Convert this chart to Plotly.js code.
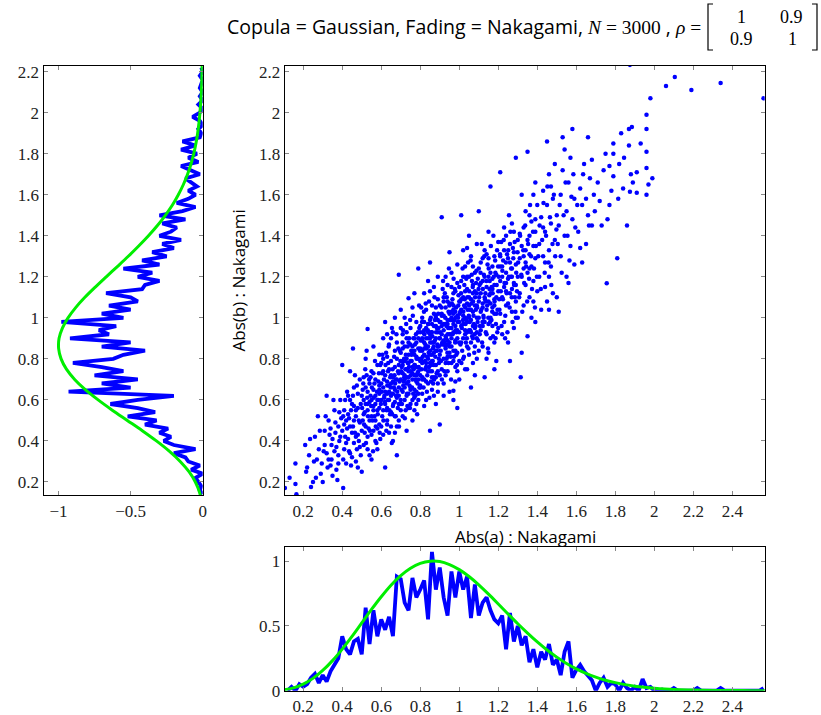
<!DOCTYPE html>
<html>
<head>
<meta charset="utf-8">
<script src="https://cdn.plot.ly/plotly-3.0.1.min.js"></script>
<style>html,body{margin:0;padding:0;background:#fff;}#chart{width:821px;height:715px;}</style>
</head>
<body>
<div id="chart"></div>
<script>
// ---- scatter sample (Abs(a), Abs(b)) ----
const scatterPts = [
[0.106,0.17],[0.165,0.14],[0.16,0.19],[0.16,0.29],[0.13,0.22],
[0.21,0.38],[0.24,0.175],[0.25,0.2],[0.22,0.27],[0.27,0.31],[0.275,0.52],[0.23,0.33],[0.29,0.24],[0.26,0.42],[0.28,0.36],[0.295,0.29],
[0.30,0.2],[0.31,0.45],[0.32,0.34],[0.33,0.5],[0.34,0.28],[0.35,0.23],[0.35,0.41],[0.36,0.55],[0.37,0.26],[0.37,0.37],[0.38,0.47],[0.38,0.33],[0.39,0.6],[0.39,0.42],[0.31,0.38],[0.33,0.31],[0.34,0.46],[0.36,0.35],[0.38,0.29],[0.395,0.51],[0.32,0.62],
[0.40,0.77],[0.405,0.17],[0.40,0.45],[0.41,0.36],[0.41,0.55],[0.42,0.5],[0.42,0.29],[0.43,0.62],[0.43,0.41],[0.44,0.47],[0.44,0.34],[0.45,0.58],[0.455,0.85],[0.45,0.44],[0.46,0.39],[0.46,0.66],[0.47,0.52],[0.47,0.3],[0.48,0.27],[0.48,0.56],[0.48,0.43],[0.49,0.49],[0.49,0.37],[0.49,0.7],[0.50,0.25],[0.41,0.48],[0.43,0.53],[0.44,0.6],[0.46,0.5],[0.47,0.42],[0.42,0.39],[0.45,0.32],[0.48,0.63],[0.46,0.57],
[0.50,0.45],[0.50,0.62],[0.51,0.53],[0.51,0.71],[0.51,0.38],[0.52,0.58],[0.52,0.47],[0.52,0.8],[0.53,0.945],[0.53,0.64],[0.53,0.42],[0.53,0.55],[0.54,0.5],[0.54,0.68],[0.54,0.33],[0.55,0.31],[0.55,0.6],[0.55,0.74],[0.55,0.52],[0.56,0.45],[0.56,0.65],[0.56,0.57],[0.56,0.86],[0.57,0.4],[0.57,0.62],[0.57,0.7],[0.57,0.5],[0.58,0.55],[0.58,0.77],[0.58,0.36],[0.58,0.6],[0.59,0.48],[0.59,0.67],[0.59,0.82],[0.59,0.56],[0.51,0.6],[0.52,0.66],[0.53,0.36],[0.54,0.59],[0.55,0.43],[0.56,0.73],[0.57,0.58],[0.58,0.46],[0.59,0.63],[0.595,0.41],[0.505,0.5],[0.515,0.44],[0.525,0.72],[0.545,0.62],[0.565,0.52],[0.585,0.69],
[0.60,0.6],[0.60,0.78],[0.60,0.47],[0.61,0.66],[0.61,0.55],[0.61,0.9],[0.62,0.98],[0.62,0.27],[0.62,0.72],[0.62,0.58],[0.63,0.63],[0.63,0.5],[0.63,0.81],[0.63,0.69],[0.64,0.44],[0.64,0.75],[0.64,0.6],[0.64,0.87],[0.65,0.54],[0.65,0.68],[0.65,0.79],[0.65,0.62],[0.66,0.4],[0.66,0.71],[0.66,0.57],[0.66,0.93],[0.67,0.65],[0.67,0.52],[0.67,0.76],[0.67,0.84],[0.68,0.33],[0.68,0.61],[0.68,0.7],[0.68,0.47],[0.68,0.8],[0.69,1.21],[0.69,0.58],[0.69,0.73],[0.69,0.66],[0.70,1.04],[0.70,0.55],[0.60,0.68],[0.61,0.74],[0.62,0.64],[0.63,0.56],[0.64,0.67],[0.65,0.72],[0.66,0.63],[0.67,0.59],[0.68,0.88],[0.69,0.5],[0.605,0.52],[0.615,0.61],[0.625,0.83],[0.635,0.74],[0.645,0.53],[0.655,0.95],[0.665,0.66],[0.675,0.7],[0.685,0.56],[0.695,0.84],[0.61,0.43],[0.63,0.92],[0.65,0.47],[0.67,1.0],[0.69,0.62],
[0.70,0.7],[0.70,0.83],[0.71,0.64],[0.71,0.77],[0.71,0.92],[0.71,0.52],[0.72,0.72],[0.72,0.6],[0.72,0.86],[0.72,1.0],[0.73,0.68],[0.73,0.8],[0.73,0.45],[0.73,0.75],[0.74,1.095],[0.74,0.63],[0.74,0.88],[0.74,0.71],[0.74,0.56],[0.75,0.79],[0.75,0.66],[0.75,0.95],[0.75,0.74],[0.76,0.6],[0.76,0.83],[0.76,0.7],[0.76,0.5],[0.76,1.05],[0.77,0.77],[0.77,0.65],[0.77,0.9],[0.77,0.72],[0.78,0.58],[0.78,0.81],[0.78,0.69],[0.78,0.98],[0.78,0.76],[0.79,1.24],[0.79,0.63],[0.79,0.85],[0.79,0.74],[0.80,0.67],[0.80,0.93],[0.80,0.79],[0.70,0.6],[0.71,0.85],[0.72,0.79],[0.73,0.93],[0.74,0.78],[0.75,0.58],[0.76,0.76],[0.77,0.84],[0.78,0.88],[0.79,0.7],[0.705,0.76],[0.715,0.69],[0.725,0.55],[0.735,0.86],[0.745,0.67],[0.755,0.82],[0.765,0.9],[0.775,0.62],[0.785,0.73],[0.795,0.95],[0.70,0.95],[0.72,0.66],[0.74,0.82],[0.76,0.73],[0.78,0.64],[0.73,0.62],[0.75,0.87],[0.77,1.12],[0.79,0.8],[0.71,0.73],[0.73,0.71],[0.77,0.55],[0.79,0.9],
[0.80,0.85],[0.80,0.72],[0.81,1.0],[0.81,0.78],[0.81,0.63],[0.81,0.89],[0.82,0.82],[0.82,0.7],[0.82,1.12],[0.82,0.94],[0.83,0.76],[0.83,0.86],[0.83,0.6],[0.83,1.04],[0.84,0.9],[0.84,0.8],[0.84,0.68],[0.84,0.97],[0.85,0.45],[0.85,1.27],[0.85,0.84],[0.85,0.74],[0.85,0.92],[0.86,0.79],[0.86,1.06],[0.86,0.65],[0.86,0.88],[0.87,0.83],[0.87,0.96],[0.87,0.71],[0.87,1.15],[0.88,0.9],[0.88,0.77],[0.88,0.58],[0.88,1.0],[0.89,0.86],[0.89,1.09],[0.89,0.74],[0.89,0.93],[0.90,0.48],[0.90,0.82],[0.90,0.98],[0.80,0.96],[0.81,0.7],[0.82,0.88],[0.83,0.95],[0.84,0.74],[0.85,0.99],[0.86,0.93],[0.87,0.77],[0.88,0.84],[0.89,0.68],[0.805,0.79],[0.815,0.93],[0.825,0.75],[0.835,0.81],[0.845,1.08],[0.855,0.69],[0.865,0.85],[0.875,0.89],[0.885,0.95],[0.895,0.8],[0.80,0.66],[0.82,0.98],[0.84,0.86],[0.86,0.74],[0.88,1.05],[0.83,0.69],[0.85,0.78],[0.87,1.02],[0.89,0.99],[0.81,0.84],[0.83,0.9],[0.86,0.97],[0.88,0.71],[0.84,1.18],[0.87,0.62],[0.82,0.57],[0.89,1.2],[0.85,0.9],[0.86,0.82],
[0.90,0.9],[0.91,1.49],[0.91,0.87],[0.91,1.02],[0.91,0.75],[0.92,0.94],[0.92,0.8],[0.92,1.1],[0.92,0.68],[0.93,0.97],[0.93,0.85],[0.93,1.05],[0.93,0.72],[0.94,0.92],[0.94,1.16],[0.94,0.81],[0.94,0.99],[0.95,0.88],[0.95,0.64],[0.95,1.07],[0.95,0.95],[0.96,0.78],[0.96,1.0],[0.96,0.9],[0.96,1.22],[0.97,0.645],[0.97,0.6],[0.97,0.93],[0.97,1.04],[0.97,0.84],[0.98,0.96],[0.98,0.76],[0.98,1.13],[0.98,0.89],[0.99,1.01],[0.99,0.83],[0.99,0.94],[0.99,1.26],[1.00,0.7],[1.00,0.98],[1.00,1.08],[0.90,1.06],[0.91,0.96],[0.92,1.01],[0.93,0.91],[0.94,0.74],[0.95,1.02],[0.96,0.86],[0.97,1.12],[0.98,1.03],[0.99,0.9],[0.905,0.84],[0.915,1.14],[0.925,0.88],[0.935,0.8],[0.945,1.03],[0.955,0.92],[0.965,1.09],[0.975,0.99],[0.985,0.82],[0.995,1.06],[0.90,0.72],[0.92,0.87],[0.94,0.97],[0.96,1.15],[0.98,0.69],[0.91,0.92],[0.93,1.2],[0.95,0.83],[0.97,0.97],[0.99,1.17],[0.92,0.62],[0.94,1.08],[0.96,0.95],[0.98,1.0],[0.93,0.78],[0.95,1.32],[0.97,0.79],[0.99,0.56],
[1.00,0.93],[1.01,1.5],[1.01,1.04],[1.01,0.88],[1.01,1.18],[1.02,0.97],[1.02,0.8],[1.02,1.1],[1.02,1.01],[1.03,0.92],[1.03,1.25],[1.03,0.75],[1.03,1.05],[1.04,0.98],[1.04,0.86],[1.04,1.14],[1.04,1.07],[1.05,1.0],[1.05,0.82],[1.05,1.2],[1.05,0.94],[1.06,0.66],[1.06,1.09],[1.06,0.99],[1.06,1.3],[1.07,1.03],[1.07,0.9],[1.07,1.16],[1.07,0.78],[1.08,1.06],[1.08,0.95],[1.08,1.22],[1.08,0.86],[1.09,1.0],[1.09,1.12],[1.09,0.93],[1.09,1.36],[1.10,1.52],[1.10,1.08],[1.10,0.84],[1.00,1.15],[1.01,0.96],[1.02,1.2],[1.03,1.13],[1.04,0.93],[1.05,1.1],[1.06,0.88],[1.07,1.25],[1.08,1.13],[1.09,0.8],[1.005,1.03],[1.015,0.84],[1.025,1.06],[1.035,0.99],[1.045,1.27],[1.055,1.04],[1.065,1.18],[1.075,0.97],[1.085,1.04],[1.095,1.19],[1.00,0.79],[1.02,0.9],[1.04,1.2],[1.06,1.04],[1.08,0.72],[1.03,1.0],[1.05,1.4],[1.07,0.96],[1.09,1.06],[1.02,1.33],[1.06,0.93],[1.04,0.75],
[1.10,1.0],[1.11,1.12],[1.11,0.94],[1.11,1.27],[1.12,1.05],[1.12,0.86],[1.12,1.18],[1.13,0.71],[1.13,1.1],[1.13,0.98],[1.13,1.33],[1.14,1.15],[1.14,0.92],[1.14,1.04],[1.15,1.2],[1.15,0.83],[1.15,1.08],[1.15,1.42],[1.16,1.64],[1.16,1.0],[1.16,1.12],[1.16,0.9],[1.17,1.25],[1.17,1.05],[1.17,0.96],[1.18,1.16],[1.18,1.3],[1.18,0.88],[1.18,1.09],[1.19,1.02],[1.19,1.21],[1.19,0.79],[1.20,1.13],[1.20,0.95],[1.20,1.37],[1.10,1.24],[1.11,1.03],[1.12,1.29],[1.13,1.2],[1.14,0.8],[1.15,0.97],[1.16,1.22],[1.17,1.14],[1.18,1.02],[1.19,1.1],[1.105,0.92],[1.115,1.36],[1.125,1.0],[1.135,1.08],[1.145,1.26],[1.155,1.14],[1.165,0.99],[1.175,1.4],[1.185,1.22],[1.195,0.93],[1.12,0.96],[1.14,1.31],[1.16,1.07],[1.18,0.75],[1.11,1.17],[1.17,1.19],
[1.21,1.71],[1.21,1.18],[1.21,1.02],[1.22,1.25],[1.22,0.92],[1.22,1.1],[1.23,1.33],[1.23,1.15],[1.23,0.98],[1.24,1.22],[1.24,1.06],[1.24,1.4],[1.25,1.19],[1.25,0.88],[1.25,1.29],[1.26,0.79],[1.26,1.12],[1.26,1.36],[1.27,1.24],[1.27,1.03],[1.27,1.46],[1.28,1.17],[1.28,0.95],[1.28,1.32],[1.29,1.78],[1.29,1.26],[1.29,1.08],[1.30,1.2],[1.30,1.38],[1.30,1.0],[1.21,1.3],[1.22,1.2],[1.23,1.44],[1.24,1.13],[1.25,1.07],[1.26,1.27],[1.27,1.14],[1.28,1.42],[1.29,1.16],[1.205,1.09],[1.215,1.37],[1.225,1.28],[1.235,0.9],[1.245,1.31],[1.255,1.5],[1.265,1.2],[1.275,1.34],[1.285,1.1],
[1.31,1.29],[1.31,1.12],[1.315,0.71],[1.32,0.83],[1.32,1.35],[1.32,1.2],[1.33,1.44],[1.33,1.06],[1.34,1.27],[1.34,1.52],[1.34,1.16],[1.35,1.81],[1.35,0.91],[1.35,1.38],[1.35,1.22],[1.36,1.31],[1.36,1.1],[1.37,1.47],[1.37,1.25],[1.37,1.0],[1.38,1.35],[1.38,1.6],[1.38,1.18],[1.39,0.98],[1.39,1.42],[1.39,1.29],[1.40,1.13],[1.40,1.55],[1.31,1.41],[1.33,1.24],[1.34,1.33],[1.36,1.5],[1.36,1.4],[1.38,1.08],[1.32,1.6],[1.39,1.66],
[1.41,1.36],[1.41,1.2],[1.42,1.49],[1.42,1.04],[1.43,1.3],[1.43,1.62],[1.44,1.42],[1.44,1.15],[1.45,1.86],[1.45,1.08],[1.45,1.55],[1.46,1.04],[1.46,1.33],[1.46,1.7],[1.47,1.25],[1.47,1.46],[1.48,1.58],[1.48,1.12],[1.49,1.38],[1.49,1.75],[1.50,1.10],[1.50,1.5],[1.43,1.44],[1.47,1.64],[1.44,1.27],
[1.51,1.03],[1.51,1.45],[1.52,1.6],[1.52,1.3],[1.53,1.72],[1.54,1.4],[1.55,1.2],[1.55,1.52],[1.56,1.17],[1.56,1.66],[1.57,1.35],[1.57,1.78],[1.58,1.48],[1.59,1.58],[1.59,1.26],[1.53,1.88],[1.58,1.92],
[1.61,1.42],[1.62,1.63],[1.63,1.27],[1.63,1.55],[1.64,1.75],[1.65,1.36],[1.66,1.5],[1.67,1.68],[1.68,1.45],[1.69,1.6],[1.66,1.88],
[1.72,1.57],[1.74,1.72],[1.756,1.168],[1.76,1.48],[1.77,1.74],[1.78,1.62],[1.79,1.85],[1.79,1.8],
[1.81,1.29],[1.82,1.75],[1.83,1.9],[1.84,1.63],[1.86,1.45],[1.87,1.92],[1.87,1.84],[1.875,1.615],[1.875,2.233],[1.885,1.93],[1.89,1.66],
[1.91,1.71],[1.91,1.61],[1.96,1.6],[1.96,1.73],[1.96,1.81],[1.96,1.92],[1.96,1.99],[1.98,2.07],[1.99,1.68],[2.06,2.13],[2.105,2.174],[2.19,2.11],[2.34,2.145],[2.56,2.07]
];
// ---- more points of the dense core of the cloud ----
const scatterCore = [
[0.215,0.25],[0.235,0.41],[0.255,0.3],[0.285,0.45],[0.265,0.22],
[0.305,0.35],[0.315,0.52],[0.325,0.27],[0.335,0.43],[0.345,0.38],[0.355,0.6],[0.365,0.44],[0.375,0.21],[0.385,0.54],[0.345,0.31],[0.365,0.49],[0.385,0.4],
[0.405,0.52],[0.415,0.42],[0.425,0.64],[0.435,0.35],[0.445,0.55],[0.455,0.47],[0.465,0.72],[0.475,0.36],[0.485,0.5],[0.495,0.58],[0.405,0.31],[0.415,0.6],[0.425,0.46],[0.435,0.51],[0.445,0.28],[0.455,0.62],[0.465,0.44],[0.475,0.67],[0.485,0.4],[0.495,0.33],[0.44,0.74],[0.47,0.55],
[0.502,0.56],[0.508,0.68],[0.512,0.48],[0.518,0.75],[0.522,0.39],[0.528,0.61],[0.532,0.52],[0.538,0.7],[0.542,0.45],[0.548,0.57],[0.552,0.66],[0.558,0.35],[0.562,0.61],[0.568,0.79],[0.572,0.47],[0.578,0.64],[0.582,0.53],[0.588,0.73],[0.592,0.44],[0.598,0.58],[0.505,0.65],[0.515,0.54],[0.525,0.84],[0.535,0.46],[0.545,0.71],[0.555,0.5],[0.565,0.68],[0.575,0.39],[0.585,0.6],[0.595,0.77],[0.53,0.58],[0.56,0.55],[0.59,0.65],
[0.602,0.64],[0.606,0.82],[0.611,0.5],[0.614,0.7],[0.618,0.59],[0.622,0.77],[0.626,0.45],[0.631,0.67],[0.634,0.6],[0.638,0.86],[0.642,0.55],[0.646,0.71],[0.651,0.63],[0.654,0.39],[0.658,0.75],[0.662,0.58],[0.666,0.81],[0.671,0.68],[0.674,0.52],[0.678,0.92],[0.682,0.64],[0.686,0.74],[0.691,0.47],[0.694,0.69],[0.698,0.79],[0.604,0.73],[0.616,0.62],[0.628,0.55],[0.636,0.78],[0.648,0.66],[0.656,0.53],[0.668,0.72],[0.676,0.62],[0.688,0.85],[0.696,0.58],[0.61,0.8],[0.63,0.48],[0.65,0.9],[0.67,0.44],[0.69,0.77],[0.64,0.64],[0.66,0.69],
[0.702,0.74],[0.706,0.58],[0.709,0.88],[0.713,0.67],[0.717,0.8],[0.721,0.51],[0.724,0.75],[0.728,0.97],[0.732,0.63],[0.736,0.78],[0.739,0.69],[0.743,0.9],[0.747,0.56],[0.751,0.72],[0.754,0.84],[0.758,0.66],[0.762,1.01],[0.766,0.75],[0.769,0.61],[0.773,0.87],[0.777,0.7],[0.781,0.8],[0.784,0.53],[0.788,0.93],[0.792,0.76],[0.796,0.66],[0.799,0.84],[0.704,0.65],[0.712,0.94],[0.718,0.71],[0.726,0.82],[0.734,0.57],[0.742,0.76],[0.748,0.99],[0.756,0.79],[0.764,0.63],[0.772,0.77],[0.778,0.92],[0.786,0.68],[0.794,1.06],[0.71,0.79],[0.73,0.9],[0.75,0.65],[0.77,0.82],[0.79,0.6],[0.72,0.7],[0.74,0.74],[0.76,0.86],[0.78,0.72],
[0.802,0.89],[0.806,0.75],[0.809,0.98],[0.813,0.81],[0.817,0.66],[0.821,0.92],[0.824,0.79],[0.828,1.07],[0.832,0.85],[0.836,0.72],[0.839,0.94],[0.843,0.83],[0.847,0.61],[0.851,0.88],[0.854,1.0],[0.858,0.77],[0.862,0.91],[0.866,0.68],[0.869,0.86],[0.873,1.1],[0.877,0.81],[0.881,0.93],[0.884,0.73],[0.888,0.87],[0.892,1.02],[0.896,0.78],[0.899,0.9],[0.804,0.8],[0.811,0.71],[0.819,1.03],[0.826,0.87],[0.834,0.64],[0.841,0.97],[0.849,0.82],[0.856,0.93],[0.864,0.79],[0.871,0.7],[0.879,1.01],[0.886,0.84],[0.894,0.95],[0.81,0.9],[0.83,0.78],[0.85,1.13],[0.87,0.88],[0.89,0.64],[0.82,0.85],[0.84,0.93],[0.86,0.71],[0.88,0.96],[0.805,1.05],[0.845,0.76],[0.875,0.99],[0.895,0.86],
[0.902,0.93],[0.906,0.79],[0.909,1.05],[0.913,0.88],[0.917,1.18],[0.921,0.97],[0.924,0.74],[0.928,1.0],[0.932,0.9],[0.936,1.1],[0.939,0.83],[0.943,0.95],[0.947,1.24],[0.951,0.86],[0.954,0.99],[0.958,0.7],[0.962,1.07],[0.966,0.92],[0.969,1.02],[0.973,0.81],[0.977,1.14],[0.981,0.94],[0.984,1.05],[0.988,0.77],[0.992,0.98],[0.996,1.11],[0.999,0.88],[0.904,0.98],[0.911,0.7],[0.919,0.89],[0.926,1.12],[0.934,0.96],[0.941,0.87],[0.949,1.06],[0.956,0.81],[0.964,0.99],[0.971,1.19],[0.979,0.88],[0.986,0.93],[0.994,1.0],[0.91,1.01],[0.93,0.86],[0.95,0.92],[0.97,1.06],[0.99,0.74],[0.92,1.08],[0.94,0.89],[0.96,1.03],[0.98,0.84],[0.945,0.78],
[1.002,1.02],[1.006,0.87],[1.009,1.12],[1.013,0.95],[1.017,1.24],[1.021,1.03],[1.024,0.81],[1.028,1.09],[1.032,0.97],[1.036,1.19],[1.039,0.9],[1.043,1.04],[1.047,0.85],[1.051,1.13],[1.054,0.98],[1.058,1.28],[1.062,1.07],[1.066,0.91],[1.069,1.15],[1.073,1.01],[1.077,0.83],[1.081,1.1],[1.084,0.96],[1.088,1.23],[1.092,1.05],[1.096,0.89],[1.099,1.14],[1.004,1.08],[1.011,0.78],[1.019,0.99],[1.026,1.16],[1.034,0.88],[1.041,1.1],[1.049,1.01],[1.056,0.94],[1.064,1.21],[1.071,1.08],[1.079,0.92],[1.086,1.17],[1.094,0.98],[1.01,1.09],[1.03,0.94],[1.05,1.06],[1.07,1.12],[1.09,0.9],[1.04,1.34],
[1.102,1.1],[1.106,0.96],[1.109,1.22],[1.113,1.04],[1.117,0.88],[1.121,1.14],[1.124,1.01],[1.128,1.3],[1.132,1.09],[1.136,0.93],[1.139,1.18],[1.143,1.06],[1.147,0.85],[1.151,1.24],[1.154,1.11],[1.158,0.98],[1.162,1.35],[1.166,1.15],[1.169,1.03],[1.173,0.91],[1.177,1.2],[1.181,1.08],[1.184,1.28],[1.188,0.97],[1.192,1.16],[1.196,1.04],[1.199,1.25],[1.104,1.16],[1.119,0.98],[1.126,1.21],[1.134,1.12],[1.149,1.0],[1.156,1.18],[1.171,1.12],[1.186,0.9],[1.194,1.33],[1.12,1.07],[1.15,1.29],[1.18,1.06],
[1.202,1.2],[1.206,1.04],[1.209,1.31],[1.213,1.13],[1.217,0.96],[1.221,1.23],[1.224,1.09],[1.228,1.38],[1.232,1.17],[1.236,1.01],[1.239,1.27],[1.243,1.12],[1.247,0.93],[1.251,1.33],[1.254,1.2],[1.258,1.05],[1.262,1.42],[1.266,1.24],[1.269,1.1],[1.273,0.98],[1.277,1.29],[1.281,1.16],[1.284,1.37],[1.288,1.03],[1.292,1.22],[1.296,1.13],[1.299,1.32],[1.21,1.25],[1.24,1.17],[1.27,1.2],[1.29,1.0],
[1.302,1.27],[1.307,1.1],[1.312,1.4],[1.318,1.21],[1.323,1.03],[1.328,1.33],[1.333,1.17],[1.338,1.45],[1.343,1.25],[1.348,1.08],[1.353,1.36],[1.358,1.19],[1.363,1.55],[1.368,1.3],[1.373,1.14],[1.378,1.42],[1.383,1.24],[1.388,1.05],[1.393,1.35],[1.398,1.2],[1.33,1.3],[1.36,1.24],[1.39,1.48],
[1.405,1.3],[1.412,1.45],[1.418,1.14],[1.425,1.38],[1.432,1.56],[1.438,1.22],[1.445,1.4],[1.452,1.64],[1.458,1.27],[1.465,1.49],[1.472,1.16],[1.478,1.36],[1.485,1.6],[1.492,1.3],[1.498,1.43],[1.46,1.2],
[1.505,1.36],[1.515,1.55],[1.525,1.22],[1.535,1.5],[1.545,1.66],[1.555,1.4],[1.565,1.28],[1.575,1.59],[1.585,1.7],[1.595,1.44],[1.54,1.82],
[1.605,1.55],[1.62,1.34],[1.635,1.7],[1.65,1.58],[1.665,1.45],[1.68,1.77],[1.695,1.52],
[1.71,1.66],[1.73,1.45],[1.75,1.8],[1.77,1.55],[1.79,1.69],
[1.815,1.58],[1.845,1.78],[1.88,1.7],[1.93,1.85],[1.97,1.65]
];

// ---- bottom marginal: empirical histogram of Abs(a) (normalised) ----
const histAx = [0.12,0.14,0.16,0.18,0.20,0.22,0.24,0.26,0.28,0.30,0.32,0.34,0.36,0.38,0.40,0.42,0.44,0.46,0.48,0.50,0.52,0.54,0.56,0.58,0.60,0.62,0.64,0.66,0.68,0.70,0.72,0.74,0.76,0.78,0.80,0.82,0.84,0.86,0.88,0.90,0.92,0.94,0.96,0.98,1.00,1.02,1.04,1.06,1.08,1.10,1.12,1.14,1.16,1.18,1.20,1.22,1.24,1.26,1.28,1.30,1.32,1.34,1.36,1.38,1.40,1.42,1.44,1.46,1.48,1.50,1.52,1.54,1.56,1.58,1.60,1.62,1.64,1.66,1.68,1.70,1.72,1.74,1.76,1.78,1.80,1.82,1.84,1.86,1.88,1.90,1.92,1.94,1.96,1.98,2.00,2.02,2.04,2.06,2.08,2.10,2.12,2.20,2.22,2.24,2.32,2.34,2.36,2.54,2.56];
const histAy = [0.0,0.03,0.0,0.05,0.03,0.05,0.1,0.13,0.06,0.12,0.07,0.15,0.2,0.25,0.42,0.32,0.28,0.38,0.4,0.28,0.64,0.36,0.62,0.42,0.55,0.47,0.57,0.42,0.88,0.86,0.68,0.62,0.87,0.72,0.78,0.85,0.55,1.07,0.78,0.95,0.72,0.58,0.92,0.72,0.92,0.78,0.88,0.56,0.82,0.58,0.68,0.72,0.62,0.55,0.52,0.58,0.32,0.6,0.38,0.5,0.35,0.42,0.22,0.32,0.18,0.3,0.24,0.36,0.2,0.24,0.12,0.3,0.38,0.1,0.16,0.2,0.15,0.12,0.08,0.0,0.06,0.1,0.03,0.06,0.05,0.0,0.06,0.02,0.0,0.03,0.0,0.09,0.02,0.03,0.0,0.0,0.01,0.0,0.0,0.02,0.0,0.0,0.02,0.0,0.0,0.02,0.0,0.0,0.02];

// ---- left marginal: empirical histogram of Abs(b) (normalised, drawn leftwards) ----
const histBy = [0.14,0.16,0.18,0.20,0.22,0.24,0.26,0.28,0.30,0.32,0.34,0.36,0.38,0.40,0.42,0.44,0.46,0.48,0.50,0.52,0.54,0.56,0.58,0.60,0.62,0.64,0.66,0.68,0.70,0.72,0.74,0.76,0.78,0.80,0.82,0.84,0.86,0.88,0.90,0.92,0.94,0.96,0.98,1.00,1.02,1.04,1.06,1.08,1.10,1.12,1.14,1.16,1.18,1.20,1.22,1.24,1.26,1.28,1.30,1.32,1.34,1.36,1.38,1.40,1.42,1.44,1.46,1.48,1.50,1.52,1.54,1.56,1.58,1.60,1.62,1.64,1.66,1.68,1.70,1.72,1.74,1.76,1.78,1.80,1.82,1.84,1.86,1.88,1.90,1.92,1.94,1.96,1.98,2.00,2.02,2.04,2.06,2.08,2.10,2.12,2.14,2.16,2.18,2.20,2.22];
const histBx = [0.0,-0.02,-0.01,-0.03,-0.05,0.0,-0.08,-0.02,-0.1,-0.12,-0.2,-0.05,-0.2,-0.27,-0.22,-0.3,-0.24,-0.4,-0.32,-0.52,-0.33,-0.45,-0.64,-0.45,-0.2,-0.93,-0.5,-0.7,-0.45,-0.75,-0.55,-0.7,-0.9,-0.62,-0.55,-0.4,-0.7,-0.5,-0.92,-0.65,-0.72,-0.6,-0.98,-0.55,-0.7,-0.5,-0.65,-0.45,-0.5,-0.67,-0.42,-0.4,-0.3,-0.45,-0.35,-0.55,-0.3,-0.42,-0.25,-0.35,-0.2,-0.28,-0.15,-0.3,-0.22,-0.18,-0.28,-0.12,-0.3,-0.14,-0.05,-0.18,-0.1,-0.05,-0.1,-0.04,-0.08,-0.12,-0.02,-0.08,-0.15,-0.03,-0.1,-0.04,-0.15,-0.05,-0.14,-0.02,-0.01,-0.03,0.0,-0.02,-0.07,-0.02,0.0,-0.03,0.0,-0.02,0.0,-0.02,-0.01,0.0,-0.02,0.0,-0.01];

// ---- fitted Nakagami density (normalised to peak 1) ----
const fitX = [0.10,0.15,0.20,0.25,0.30,0.35,0.40,0.45,0.50,0.55,0.60,0.65,0.70,0.75,0.80,0.85,0.90,0.95,1.00,1.05,1.10,1.15,1.20,1.25,1.30,1.35,1.40,1.45,1.50,1.55,1.60,1.65,1.70,1.75,1.80,1.85,1.90,1.95,2.00,2.10,2.20,2.30,2.40,2.50,2.60];
const fitY = [0.007,0.022,0.051,0.095,0.156,0.232,0.321,0.419,0.523,0.627,0.725,0.814,0.888,0.945,0.982,0.999,0.996,0.973,0.934,0.881,0.817,0.745,0.669,0.592,0.516,0.444,0.376,0.314,0.259,0.210,0.169,0.134,0.105,0.081,0.062,0.047,0.035,0.026,0.019,0.009,0.005,0.002,0.001,0.0004,0.0002];
const fitXleft = fitY.map(v => -v);

const xTicks = [0.2,0.4,0.6,0.8,1,1.2,1.4,1.6,1.8,2,2.2,2.4];
const yTicks = [0.2,0.4,0.6,0.8,1,1.2,1.4,1.6,1.8,2,2.2];
const leftXTicks = [-1,-0.5,0];
const botYTicks = [0,0.5,1];

const BLUE = '#0000ff', GREEN = '#00ee00';
const serif = 'Liberation Serif, DejaVu Serif, serif';
const sans = 'Open Sans, Lato, sans-serif';
const W = 821, H = 715;
const px = v => v / W, py = v => 1 - v / H;

const allPts = scatterPts.concat(scatterCore);

const traces = [
  {type:'scatter', mode:'markers', x: allPts.map(p=>p[0]), y: allPts.map(p=>p[1]),
   xaxis:'x', yaxis:'y', marker:{color:BLUE, size:4.5}, showlegend:false},
  {type:'scatter', mode:'lines', x: histBx, y: histBy, xaxis:'x2', yaxis:'y2',
   line:{color:BLUE, width:3.8}, showlegend:false},
  {type:'scatter', mode:'lines', x: fitXleft, y: fitX, xaxis:'x2', yaxis:'y2',
   line:{color:GREEN, width:3, shape:'spline'}, showlegend:false},
  {type:'scatter', mode:'lines', x: histAx, y: histAy, xaxis:'x3', yaxis:'y3',
   line:{color:BLUE, width:3.8}, showlegend:false},
  {type:'scatter', mode:'lines', x: fitX, y: fitY, xaxis:'x3', yaxis:'y3',
   line:{color:GREEN, width:3, shape:'spline'}, showlegend:false}
];

const axBase = {showgrid:false, zeroline:false, showline:true, linecolor:'#000', linewidth:1,
  mirror:'ticks', ticks:'inside', ticklen:4, tickcolor:'#888', tickwidth:1,
  tickfont:{family:serif, size:17, color:'#222'}, fixedrange:true};

const mainXdom = [px(284.7), px(764.7)];
const mainYdom = [py(495.3), py(65.7)];

const ann = (x, y, text, font, extra) => Object.assign({xref:'paper', yref:'paper', x:px(x), y:py(y),
  xanchor:'center', yanchor:'middle', showarrow:false, text:text, font:font}, extra || {});
const mfont = {family:serif, size:18, color:'#000'};

const layout = {
  width: W, height: H, margin:{l:0,r:0,t:0,b:0}, paper_bgcolor:'#fff', plot_bgcolor:'#fff',
  showlegend:false,
  xaxis: Object.assign({}, axBase, {domain: mainXdom, range:[0.105,2.566], tickvals:xTicks, anchor:'y'}),
  yaxis: Object.assign({}, axBase, {domain: mainYdom, range:[0.135,2.229], tickvals:yTicks, anchor:'x'}),
  xaxis2: Object.assign({}, axBase, {domain:[px(43.5), px(202.7)], range:[-1.104,0], tickvals:leftXTicks, anchor:'y2'}),
  yaxis2: Object.assign({}, axBase, {domain: mainYdom, range:[0.135,2.229], tickvals:yTicks, anchor:'x2'}),
  xaxis3: Object.assign({}, axBase, {domain: mainXdom, range:[0.105,2.566], tickvals:xTicks, anchor:'y3'}),
  yaxis3: Object.assign({}, axBase, {domain:[py(690.7), py(547.3)], range:[0,1.106], tickvals:botYTicks, anchor:'x3'}),
  annotations: [
    ann(703, 27, 'Copula = Gaussian, Fading = Nakagami, <span style="font-family:Liberation Serif"><i>N</i> = 3000</span> , <span style="font-family:Liberation Serif"><i>ρ</i> =</span>',
      {family:sans, size:19.5, color:'#000'}, {xanchor:'right'}),
    ann(741, 17, '1', mfont),
    ann(791, 17, '0.9', mfont),
    ann(741, 39, '0.9', mfont),
    ann(792, 39, '1', mfont),
    ann(238, 280.5, 'Abs(b) : Nakagami', {family:sans, size:17, color:'#000'}, {textangle:-90}),
    ann(525, 536, 'Abs(a) : Nakagami', {family:sans, size:17, color:'#000'})
  ],
  shapes: [
    {type:'path', xref:'paper', yref:'paper', line:{color:'#000', width:1.2},
     path:`M ${px(713)} ${py(4)} L ${px(708)} ${py(4)} L ${px(708)} ${py(50)} L ${px(713)} ${py(50)}`},
    {type:'path', xref:'paper', yref:'paper', line:{color:'#000', width:1.2},
     path:`M ${px(812)} ${py(4)} L ${px(817)} ${py(4)} L ${px(817)} ${py(50)} L ${px(812)} ${py(50)}`}
  ]
};

Plotly.newPlot('chart', traces, layout, {staticPlot:true, displayModeBar:false});
</script>
</body>
</html>
